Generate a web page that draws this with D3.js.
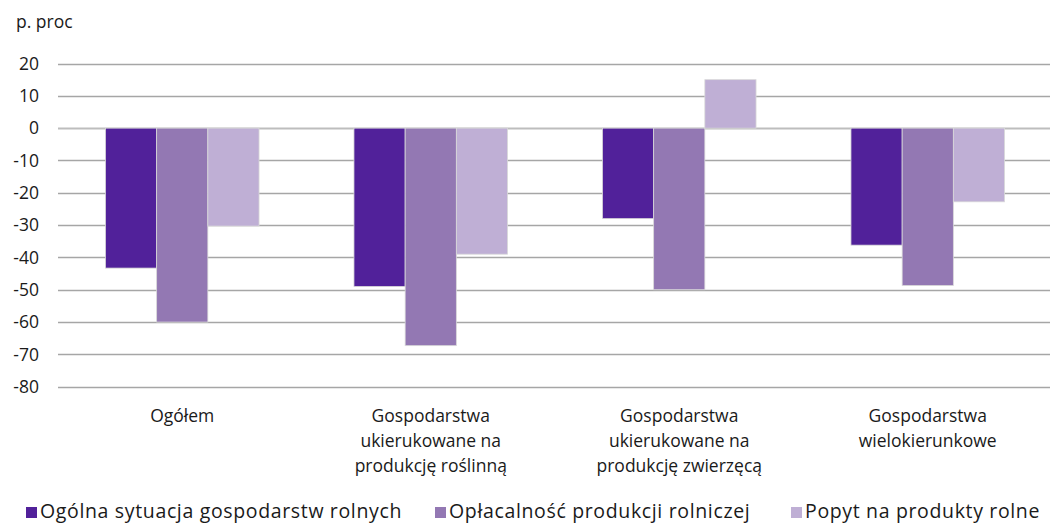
<!DOCTYPE html>
<html>
<head>
<meta charset="utf-8">
<script src="https://cdn.jsdelivr.net/npm/d3@7"></script>
<style>
  body { margin: 0; background: #fff; }
  text { font-family: "Open Sans", sans-serif; fill: #1a1a1a; }
</style>
</head>
<body>
<script>
  let [w, h] = [1050, 526]

  var categories = [
    ["Ogółem"],
    ["Gospodarstwa", "ukierukowane na", "produkcję roślinną"],
    ["Gospodarstwa", "ukierukowane na", "produkcję zwierzęcą"],
    ["Gospodarstwa", "wielokierunkowe"]
  ]
  var seriesNames = ["Ogólna sytuacja gospodarstw rolnych", "Opłacalność produkcji rolniczej", "Popyt na produkty rolne"]
  var sytuacja = [-43.3, -49, -28, -36.2]
  var oplacalnosc = [-60, -67.3, -50, -48.7]
  var popyt = [-30.3, -39, 15, -22.8]
  var yTicks = [20, 10, 0, -10, -20, -30, -40, -50, -60, -70, -80]
  var colors = ["#51219a", "#9378b3", "#bfafd5"]

  var series = [sytuacja, oplacalnosc, popyt]

  var svg = d3.select("body").append("svg")
    .attr("width", w)
    .attr("height", h)

  var x = d3.scaleBand()
    .domain(d3.range(categories.length))
    .range([58, 1052])

  var y = d3.scaleLinear()
    .domain([-80, 20])
    .range([386.7, 63.5])

  var inner = d3.scaleBand()
    .domain(d3.range(series.length))
    .range([0, x.bandwidth() * 0.618])

  var offset = (x.bandwidth() - inner.range()[1]) / 2

  // gridlines
  svg.append("g")
    .selectAll("line")
    .data(yTicks)
    .join("line")
    .attr("x1", 58)
    .attr("x2", w)
    .attr("y1", d => Math.round(y(d)) + 0.5)
    .attr("y2", d => Math.round(y(d)) + 0.5)
    .attr("stroke", d => d == 0 ? "#bdbdbd" : "#a6a6a6")
    .attr("stroke-width", d => d == 0 ? 2 : 1.3)

  // y labels
  svg.append("g")
    .selectAll("text")
    .data(yTicks)
    .join("text")
    .attr("x", 39)
    .attr("y", d => y(d))
    .attr("dy", "0.36em")
    .attr("text-anchor", "end")
    .style("font-size", "17.5px")
    .text(d => d)

  svg.append("text")
    .attr("x", 16)
    .attr("y", 28)
    .style("font-size", "17.5px")
    .text("p. proc")

  // bars
  series.forEach(function (vals, s) {
    svg.append("g")
      .selectAll("rect")
      .data(vals)
      .join("rect")
      .attr("x", (d, i) => x(i) + offset + inner(s))
      .attr("width", inner.bandwidth())
      .attr("y", d => y(Math.max(0, d)))
      .attr("height", d => Math.abs(y(d) - y(0)))
      .attr("fill", colors[s])
      .attr("stroke", "#d9d9d9")
      .attr("stroke-width", 0.8)
  })

  // category labels
  var cat = svg.append("g")
    .selectAll("text")
    .data(categories)
    .join("text")
    .attr("x", (d, i) => x(i) + x.bandwidth() / 2)
    .attr("y", 422)
    .attr("text-anchor", "middle")
    .style("font-size", "17.5px")

  cat.selectAll("tspan")
    .data(d => d)
    .join("tspan")
    .attr("x", function () { return this.parentNode.getAttribute("x") })
    .attr("dy", (d, i) => i == 0 ? 0 : 25)
    .text(d => d)

  // legend
  var legendX = [26, 435, 791]
  var legend = svg.append("g")
    .selectAll("g")
    .data(seriesNames)
    .join("g")
    .attr("transform", (d, i) => "translate(" + legendX[i] + ",518)")

  legend.append("rect")
    .attr("x", 0)
    .attr("y", -11)
    .attr("width", 11)
    .attr("height", 11)
    .attr("fill", (d, i) => colors[i])

  legend.append("text")
    .attr("x", 14)
    .attr("y", 0)
    .style("font-size", "19.5px")
    .style("letter-spacing", "0.65px")
    .text(d => d)
</script>
</body>
</html>
